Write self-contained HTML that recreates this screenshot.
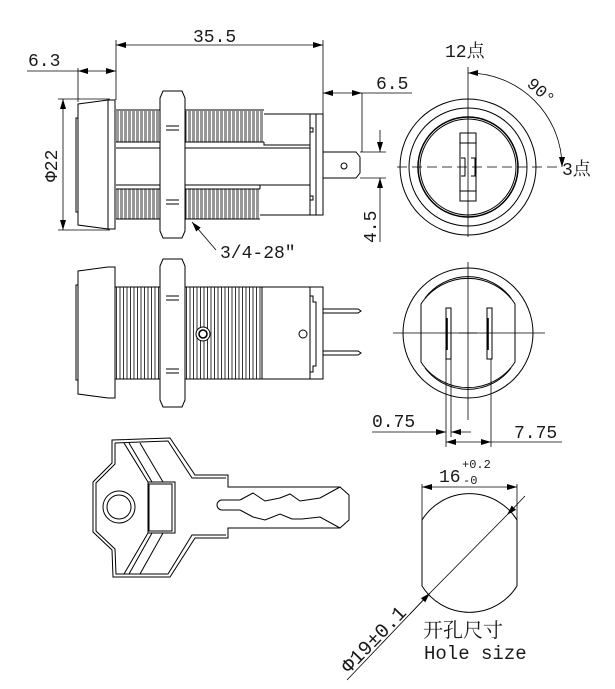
<!DOCTYPE html>
<html><head><meta charset="utf-8"><style>
html,body{margin:0;padding:0;background:#fff;width:615px;height:689px;overflow:hidden}
svg{display:block}
text{font-family:"Liberation Mono","Noto Serif CJK SC",monospace;fill:#1a1a1a}
</style></head><body>
<svg width="615" height="689" viewBox="0 0 615 689" xmlns="http://www.w3.org/2000/svg">
<defs>
<marker id="a" viewBox="0 0 10 6" refX="10" refY="3" markerWidth="10" markerHeight="6" orient="auto-start-reverse" markerUnits="userSpaceOnUse"><path d="M0,0L10,3L0,6z" fill="#000"/></marker>
<pattern id="thr" x="116" y="0" width="4" height="300" patternUnits="userSpaceOnUse">
<path d="M0,0V300M2,0V300" stroke="#000" stroke-width="0.8"/>
</pattern>
<pattern id="thr2" x="116" y="0" width="3.5" height="400" patternUnits="userSpaceOnUse">
<path d="M0.5,0V400" stroke="#000" stroke-width="0.8"/>
</pattern>
</defs>
<g fill="none" stroke="#000" stroke-width="1">
<path d="M78,104 L108,100 L115,100 L115,229 L108,229 L78,225 Z"/>
<path d="M78,118 L76,118 L76,212 L78,212"/>
<line x1="108" y1="100" x2="108" y2="229"/>
<rect x="116" y="111" width="44" height="31" fill="url(#thr)" stroke="none"/>
<rect x="185" y="111" width="79" height="31" fill="url(#thr)" stroke="none"/>
<rect x="116" y="189" width="44" height="30" fill="url(#thr)" stroke="none"/>
<rect x="185" y="189" width="75" height="30" fill="url(#thr)" stroke="none"/>
<path d="M116,110 H160 M185,110 H264 M116,142 H160 M185,142 H264 M116,189 H160 M185,189 H260 M116,219 H160 M185,219 H260"/>
<path d="M264,114 H316 M264,142 V145 H310 M116,148 H310 M116,185 H310 M260,189 V185 M260,215 H316"/>
<path d="M163,91 H182 L185,98 V231 L182,238 H163 L160,231 V98 Z" fill="#fff"/>
<path d="M166,126 H179 M166,130 H179 M166,200 H179 M166,204 H179"/>
<path d="M310,114 V215 M316,114 V215 M316,114 H323 V215 H316"/>
<path d="M310,128 L313,128 L313,132 L310,132"/>
<path d="M310,196 L313,196 L313,200 L310,200"/>
<path d="M323,152 H356 L360,157 V173 L356,178 H323"/>
<circle cx="344" cy="166" r="3"/>
<g stroke-width="0.8">
<line x1="116" y1="40" x2="116" y2="100"/>
<line x1="323" y1="40" x2="323" y2="114"/>
<line x1="116" y1="45" x2="323" y2="45" marker-start="url(#a)" marker-end="url(#a)"/>
<line x1="78" y1="68" x2="78" y2="102"/>
<line x1="27" y1="71" x2="78" y2="71"/>
<line x1="78" y1="71" x2="116" y2="71" marker-start="url(#a)" marker-end="url(#a)"/>
<line x1="323" y1="93" x2="362" y2="93" marker-start="url(#a)" marker-end="url(#a)"/>
<line x1="362" y1="93" x2="412" y2="93"/>
<line x1="362" y1="93" x2="362" y2="152"/>
<line x1="58" y1="99" x2="110" y2="99"/>
<line x1="58" y1="230" x2="110" y2="230"/>
<line x1="63" y1="99" x2="63" y2="230" marker-start="url(#a)" marker-end="url(#a)"/>
<line x1="360" y1="152" x2="386" y2="152"/>
<line x1="360" y1="178" x2="386" y2="178"/>
<line x1="380" y1="130" x2="380" y2="152" marker-end="url(#a)"/>
<line x1="380" y1="200" x2="380" y2="178" marker-end="url(#a)"/>
<line x1="380" y1="200" x2="380" y2="242"/>
<line x1="216" y1="250" x2="192" y2="222" marker-end="url(#a)"/>
</g>
<path d="M78,271 L108,267 L115,267 L115,398 L108,398 L78,394 Z"/>
<path d="M78,285 L76,285 L76,380 L78,380"/>
<rect x="115" y="287" width="45" height="92" fill="url(#thr2)"/>
<rect x="185" y="287" width="77" height="92" fill="url(#thr2)"/>
<path d="M262,287 H323 V379 H262"/>
<path d="M163,259 H182 L185,266 V400 L182,407 H163 L160,400 V266 Z" fill="#fff"/>
<path d="M166,296 H179 M166,300 H179 M166,369 H179 M166,373 H179"/>
<path d="M310,287 V379 M310,287 L310,296 L313,296 L313,302 L316,302 L316,366 L313,366 L313,372 L310,372"/>
<circle cx="203" cy="334" r="7" fill="#fff"/><circle cx="203" cy="334" r="4" stroke-width="1.6"/>
<circle cx="303" cy="334" r="4"/>
<path d="M323,309 H358 L361,311 L358,313 H323 M323,351 H358 L361,353 L358,355 H323"/>
<circle cx="468" cy="167" r="68"/>
<circle cx="468" cy="167" r="59"/>
<circle cx="468" cy="167" r="50" stroke-width="1.5"/>
<circle cx="468" cy="167" r="48"/>
<rect x="460" y="133" width="16" height="68"/>
<path d="M460,143 H476 M460,191 H476 M461,158 h4 v18 h-4 M471,158 h4 v18 h-4"/>
<g stroke-width="0.8">
<line x1="397" y1="167" x2="562" y2="167" stroke-dasharray="10,5"/>
<line x1="468" y1="67" x2="468" y2="237"/>
<path d="M468,73 A94,94 0 0 1 562,167" marker-start="url(#a)" marker-end="url(#a)"/>
</g>
<circle cx="468" cy="333" r="65"/>
<path d="M423,301 A56,56 0 0 1 513,301 L515,304 V362 L513,365 A56,56 0 0 1 423,365 L421,362 V304 Z"/>
<path d="M425,298 A54,54 0 0 1 511,298 M425,368 A54,54 0 0 0 511,368"/>
<rect x="446" y="308" width="5" height="51"/>
<rect x="487" y="308" width="5" height="51"/>
<path d="M447,318 v32 M488,318 v32" stroke-width="1.6"/>
<g stroke-width="0.8">
<line x1="393" y1="333" x2="545" y2="333"/>
<line x1="468" y1="262" x2="468" y2="420"/>
<line x1="459" y1="333" x2="477" y2="333"/>
<line x1="446" y1="359" x2="446" y2="447"/>
<line x1="451" y1="359" x2="451" y2="437"/>
<line x1="491" y1="359" x2="491" y2="447"/>
<line x1="372" y1="432" x2="446" y2="432" marker-end="url(#a)"/>
<line x1="471" y1="432" x2="451" y2="432" marker-end="url(#a)"/>
<line x1="446" y1="442" x2="491" y2="442" marker-start="url(#a)" marker-end="url(#a)"/>
<line x1="491" y1="442" x2="562" y2="442"/>
</g>
<path d="M112,440 L170,438 L195,475 L228,475 L228,487 L340,487 L349,495 L349,520 L340,528 L228,528 L228,538 L195,538 L170,577 L113,577 L112,550 L93,532 L93,482 L112,463 Z"/>
<path d="M115,443 L168,441 L192,478 L226,478 M226,535 L192,535 L168,574 L116,574 L115,549 L96,531 L96,483 L115,464 L115,443"/>
<path d="M124,443 L148,482 M129,443 L152,482 M140,443 L163,482 M124,574 L148,533 M129,574 L152,533 M140,574 L163,533"/>
<circle cx="119" cy="507" r="16"/><circle cx="119" cy="507" r="12"/>
<rect x="148" y="482" width="27" height="51" fill="#fff"/><rect x="149" y="484" width="23" height="47"/>
<path d="M240,500 H222 A5,5 0 0 0 222,510 H240"/>
<path d="M240,500 L253,493 L265,501 L280,498 L290,494 L300,501 L320,498 L340,487"/>
<path d="M240,510 L253,517 L265,520 L280,514 L292,519 L302,519 L320,517 L340,528"/>
<path d="M422,520 A56,56 0 0 1 517,520 V586 A56,56 0 0 1 422,586 Z"/>
<g stroke-width="0.8">
<line x1="422" y1="484" x2="422" y2="520"/>
<line x1="517" y1="484" x2="517" y2="520"/>
<line x1="422" y1="487" x2="517" y2="487" marker-start="url(#a)" marker-end="url(#a)"/>
<line x1="347" y1="680" x2="430" y2="593"/>
<line x1="525" y1="496" x2="507" y2="515" marker-end="url(#a)"/>
<line x1="430" y1="593" x2="507" y2="515"/>
<line x1="410" y1="614" x2="430" y2="593" marker-end="url(#a)"/>
</g>
</g>
<text x="193" y="42" font-size="18">35.5</text>
<text x="28" y="66" font-size="18">6.3</text>
<text x="376" y="89" font-size="18">6.5</text>
<text transform="translate(57,182) rotate(-90)" font-size="18" font-family="Liberation Serif,serif">Φ22</text>
<text transform="translate(376,243) rotate(-90)" font-size="18">4.5</text>
<text x="220" y="258" font-size="18">3/4-28″</text>
<text x="445" y="57" font-size="18">12点</text>
<text x="562" y="175" font-size="18">3点</text>
<text transform="translate(526,85) rotate(42)" font-size="17">90°</text>
<text x="372" y="427" font-size="18">0.75</text>
<text x="514" y="438" font-size="18">7.75</text>
<text x="439" y="482" font-size="18" font-family="Liberation Serif,serif">16</text>
<text x="462" y="468" font-size="12">+0.2</text>
<text x="463" y="484" font-size="12">-0</text>
<text transform="translate(349,674) rotate(-46)" font-size="20" font-family="Liberation Serif,serif">Φ19±0.1</text>
<text x="423" y="637" font-size="20" font-family="Liberation Serif,Noto Serif CJK SC,serif">开孔尺寸</text>
<text x="424" y="659" font-size="19">Hole size</text>
</svg>
</body></html>
